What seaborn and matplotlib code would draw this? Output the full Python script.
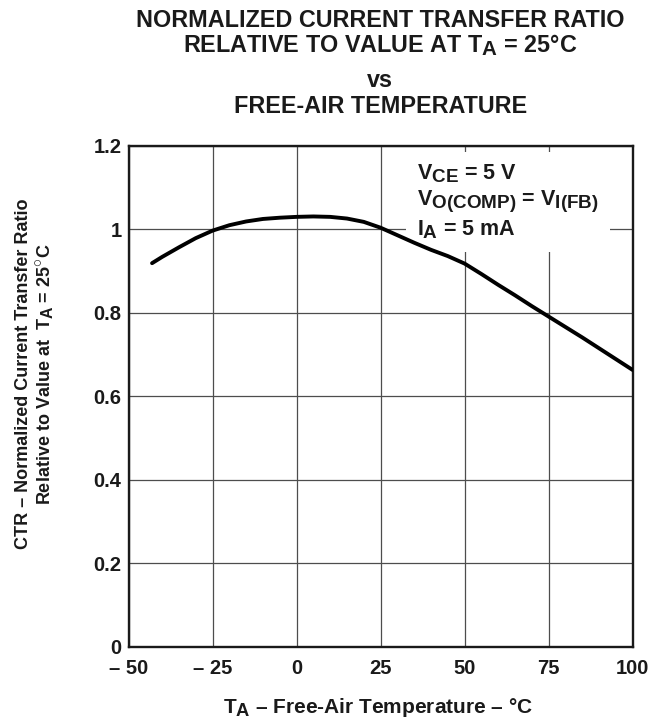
import matplotlib
matplotlib.use("Agg")
import matplotlib.pyplot as plt
import matplotlib._mathtext as mtext
import seaborn as sns

# Curve
temp_c = [-43, -40, -35, -30, -25, -20, -15, -10, -5, 0, 5, 10, 15, 20, 25,
          30, 35, 40, 45, 50, 55, 60, 65, 70, 75, 80, 85, 90, 95, 100]
ctr_norm = [0.919, 0.934, 0.957, 0.979, 0.997, 1.010, 1.019, 1.025, 1.028, 1.030,
            1.031, 1.030, 1.026, 1.018, 1.004, 0.986, 0.968, 0.951, 0.936, 0.918,
            0.893, 0.867, 0.842, 0.816, 0.791, 0.766, 0.741, 0.715, 0.689, 0.663]

x_ticks = [-50, -25, 0, 25, 50, 75, 100]
x_tick_labels = ["\u2013 50", "\u2013 25", "0", "25", "50", "75", "100"]
y_ticks = [0, 0.2, 0.4, 0.6, 0.8, 1.0, 1.2]
y_tick_labels = ["0", "0.2", "0.4", "0.6", "0.8", "1", "1.2"]

title_lines = ["NORMALIZED CURRENT TRANSFER RATIO",
               r"RELATIVE TO VALUE AT $T_A$ = 25°C",
               "vs",
               "FREE-AIR TEMPERATURE"]
conditions = "$V_{CE}$ = 5 V\n$V_{O(COMP)}$ = $V_{I(FB)}$\n$I_A$ = 5 mA"

sns.set_style("white")
plt.rcParams["font.family"] = ["Liberation Sans", "DejaVu Sans"]
plt.rcParams["font.weight"] = "bold"
plt.rcParams["mathtext.fontset"] = "custom"
plt.rcParams["mathtext.rm"] = "Liberation Sans:bold"
plt.rcParams["mathtext.it"] = "Liberation Sans:bold"
plt.rcParams["mathtext.bf"] = "Liberation Sans:bold"
plt.rcParams["mathtext.sf"] = "Liberation Sans:bold"
# subscripts in the datasheet are almost full size
mtext.SHRINK_FACTOR = 0.88

ink = "#1a1a1a"

fig = plt.figure(figsize=(6.67, 7.19), dpi=100)
ax = fig.add_axes([0.1927, 0.1008, 0.7558, 0.6962])

sns.lineplot(x=temp_c, y=ctr_norm, ax=ax, color="black", linewidth=2.8, zorder=3)

ax.set_xlim(-50, 100)
ax.set_ylim(0, 1.2)
ax.set_xticks(x_ticks)
ax.set_xticklabels(x_tick_labels)
ax.set_yticks(y_ticks)
ax.set_yticklabels(y_tick_labels)
ax.tick_params(axis="both", length=0, labelsize=14.5, colors=ink)
ax.tick_params(axis="x", pad=9)
ax.tick_params(axis="y", pad=5)
for lab in ax.get_xticklabels() + ax.get_yticklabels():
    lab.set_fontweight("bold")

ax.grid(True, color="#4d4d4d", linewidth=0.9)
ax.set_axisbelow(True)
for sp in ax.spines.values():
    sp.set_color(ink)
    sp.set_linewidth(1.7)

# operating conditions, white box hides the grid behind it
ax.text(35.8, 1.160, conditions, fontsize=15.5, fontweight="bold", color=ink,
        ha="left", va="top", linespacing=1.22, zorder=2.5,
        bbox=dict(boxstyle="square,pad=0.5", facecolor="white", edgecolor="none"))

ax.set_xlabel("$T_A$ \u2013 Free-Air Temperature \u2013 °C",
              fontsize=15, fontweight="bold", color=ink)
ax.xaxis.set_label_coords(0.4945, -0.098)
ax.set_ylabel("CTR \u2013 Normalized Current Transfer Ratio\n"
              r"Relative to Value at  $T_A$ = 25$^{\circ}$C",
              fontsize=13, fontweight="bold", color=ink, linespacing=1.12)
ax.yaxis.set_label_coords(-0.142, 0.545)

# title lines placed one by one
title_baselines = [27, 52, 87, 113]
for line, yb in zip(title_lines, title_baselines):
    fig.text(0.570, 1 - yb / 719, line, fontsize=16.8, fontweight="bold",
             color=ink, ha="center", va="baseline")

fig.savefig("out.png", dpi=100)
